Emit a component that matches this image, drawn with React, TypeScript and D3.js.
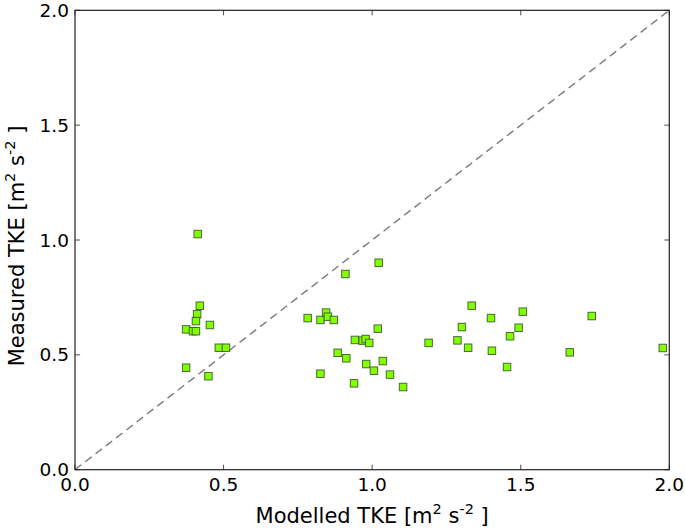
import React from "react";
import * as d3 from "d3";

const modelled: number[] = [
  0.413, 0.42, 0.411, 0.407, 0.374, 0.397, 0.407, 0.454, 0.484, 0.508, 0.374, 0.449,
  0.783, 0.826, 0.845, 0.851, 0.871, 0.91, 1.022, 1.019, 0.942, 0.968, 0.978, 0.99,
  0.884, 0.913, 0.98, 1.036, 1.006, 1.06, 0.826, 0.939, 1.104,
  1.19, 1.302, 1.287, 1.323, 1.335, 1.4, 1.403, 1.454, 1.464, 1.493, 1.507, 1.665,
  1.739, 1.978, 2.013,
];
const measured: number[] = [
  1.026, 0.714, 0.677, 0.647, 0.611, 0.603, 0.603, 0.63, 0.531, 0.531, 0.444, 0.407,
  0.66, 0.652, 0.684, 0.666, 0.652, 0.852, 0.901, 0.614, 0.565, 0.562, 0.569, 0.552,
  0.509, 0.485, 0.46, 0.473, 0.431, 0.414, 0.418, 0.376, 0.36,
  0.552, 0.621, 0.563, 0.531, 0.714, 0.66, 0.518, 0.447, 0.581, 0.618, 0.688, 0.511,
  0.669, 0.53, 0.477,
];
const tickValues: number[] = [0, 0.5, 1.0, 1.5, 2.0];
const domain: [number, number] = [0, 2];

const W = 685;
const H = 528;
const left = 75;
const right = 669.3;
const top = 10.3;
const bottom = 469.7;
const font = "'DejaVu Sans', sans-serif";

export default function App() {
  const x = d3.scaleLinear().domain(domain).range([left, right]);
  const y = d3.scaleLinear().domain(domain).range([bottom, top]);
  const ms = 7.5;
  const tl = 5;
  const fs = 18.5;
  const lfs = 21;
  const sfs = 14.5;
  return (
    <svg
      width={W}
      height={H}
      style={{ position: "fixed", left: 0, top: 0, background: "#fff" }}
      fontFamily={font}
    >
      <defs>
        <clipPath id="plotclip">
          <rect x={left} y={top} width={right - left} height={bottom - top} />
        </clipPath>
      </defs>
      <rect width={W} height={H} fill="#fff" />
      <line
        x1={x(0)}
        y1={y(0)}
        x2={x(2)}
        y2={y(2)}
        stroke="#7a7a7a"
        strokeWidth={1.4}
        strokeDasharray="8,5"
        clipPath="url(#plotclip)"
      />
      <g clipPath="url(#plotclip)">
        {modelled.map((m, i) => (
          <rect
            key={i}
            x={x(m) - ms / 2}
            y={y(measured[i]) - ms / 2}
            width={ms}
            height={ms}
            fill="#7fff00"
            stroke="#3c4f28"
            strokeWidth={1}
            strokeOpacity={0.85}
          />
        ))}
      </g>
      {tickValues.map((t) => (
        <g key={"t" + t} stroke="#222" strokeWidth={0.8}>
          <line x1={x(t)} x2={x(t)} y1={bottom} y2={bottom - tl} />
          <line x1={x(t)} x2={x(t)} y1={top} y2={top + tl} />
          <line y1={y(t)} y2={y(t)} x1={left} x2={left + tl} />
          <line y1={y(t)} y2={y(t)} x1={right} x2={right - tl} />
        </g>
      ))}
      <rect
        x={left}
        y={top}
        width={right - left}
        height={bottom - top}
        fill="none"
        stroke="#222"
        strokeWidth={1.2}
      />
      {tickValues.map((t) => (
        <text
          key={"xl" + t}
          x={x(t)}
          y={bottom + 21}
          textAnchor="middle"
          fontSize={fs}
          fill="#000"
        >
          {t.toFixed(1)}
        </text>
      ))}
      {tickValues.map((t) => (
        <text
          key={"yl" + t}
          x={left - 6}
          y={y(t) + 6.5}
          textAnchor="end"
          fontSize={fs}
          fill="#000"
        >
          {t.toFixed(1)}
        </text>
      ))}
      <text
        x={(left + right) / 2}
        y={523}
        textAnchor="middle"
        fontSize={lfs}
        fill="#000"
      >
        Modelled TKE [m
        <tspan dy={-9} fontSize={sfs}>2</tspan>
        <tspan dy={9}> s</tspan>
        <tspan dy={-9} fontSize={sfs}>-2</tspan>
        <tspan dy={9}> ]</tspan>
      </text>
      <text
        transform={`translate(24, ${(top + bottom) / 2 + 6}) rotate(-90)`}
        textAnchor="middle"
        fontSize={lfs}
        fill="#000"
      >
        Measured TKE [m
        <tspan dy={-9} fontSize={sfs}>2</tspan>
        <tspan dy={9}> s</tspan>
        <tspan dy={-9} fontSize={sfs}>-2</tspan>
        <tspan dy={9}> ]</tspan>
      </text>
    </svg>
  );
}
